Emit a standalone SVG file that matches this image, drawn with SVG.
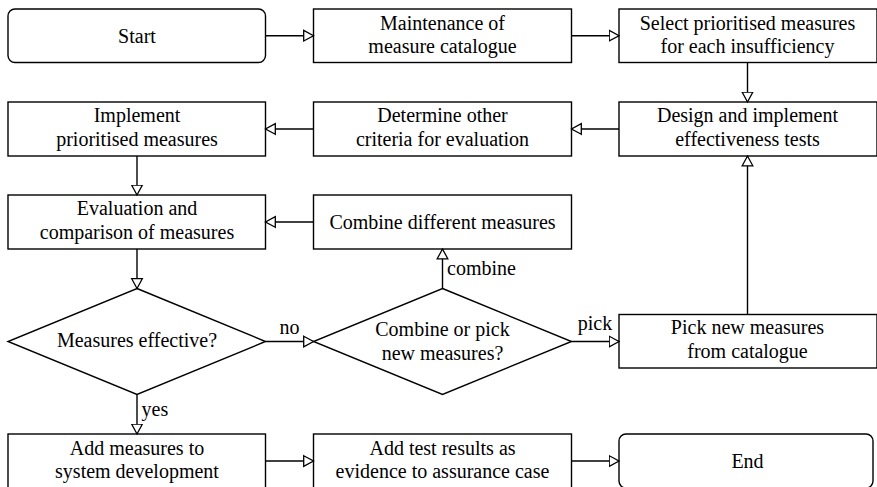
<svg xmlns="http://www.w3.org/2000/svg" width="877" height="487" viewBox="0 0 877 487">
<style>
.box{fill:#fff;stroke:#000;stroke-width:1.4}
text{font-family:"Liberation Serif","Times New Roman",serif;font-size:20px;fill:#000}
.t{text-anchor:middle}
.c{fill:none;stroke:#000;stroke-width:1.4;marker-end:url(#ah)}
</style>
<defs>
<marker id="ah" markerUnits="userSpaceOnUse" markerWidth="14" markerHeight="14" refX="10.5" refY="6" orient="auto" viewBox="0 0 14 12">
<path d="M0.7,0.7 L10.5,6 L0.7,11.3 Z" fill="#fff" stroke="#000" stroke-width="1.3"/>
</marker>
</defs>
<rect width="877" height="487" fill="#fff"/>
<g id="start"><rect class="box" x="8" y="9" width="257.5" height="53.5" rx="7"/><text class="t" x="137" y="42.5">Start</text></g>
<g id="maintenance"><rect class="box" x="313.5" y="9" width="258" height="53.5"/><text class="t" x="442.5" y="29.5">Maintenance of</text><text class="t" x="442.5" y="52.5">measure catalogue</text></g>
<g id="select"><rect class="box" x="619" y="9" width="258" height="53.5"/><text class="t" x="747.5" y="29.5">Select prioritised measures</text><text class="t" x="747.5" y="52.5">for each insufficiency</text></g>
<g id="design"><rect class="box" x="619" y="102" width="258" height="54"/><text class="t" x="747.5" y="122">Design and implement</text><text class="t" x="747.5" y="145.5">effectiveness tests</text></g>
<g id="determine"><rect class="box" x="313.5" y="102" width="258" height="54"/><text class="t" x="442.5" y="122">Determine other</text><text class="t" x="442.5" y="145.5">criteria for evaluation</text></g>
<g id="implement"><rect class="box" x="8" y="102" width="257.5" height="54"/><text class="t" x="137" y="122">Implement</text><text class="t" x="137" y="145.5">prioritised measures</text></g>
<g id="evaluation"><rect class="box" x="8" y="195" width="257.5" height="54"/><text class="t" x="137" y="215">Evaluation and</text><text class="t" x="137" y="238.5">comparison of measures</text></g>
<g id="combine"><rect class="box" x="313.5" y="195" width="258" height="54"/><text class="t" x="442.5" y="228.5">Combine different measures</text></g>
<g id="effective"><polygon class="box" points="137,288.5 265.5,341.5 137,394.5 8,341.5"/><text class="t" x="137" y="346.5">Measures effective?</text></g>
<g id="combinepick"><polygon class="box" points="442.5,288.5 571.5,341.5 442.5,394.5 313.5,341.5"/><text class="t" x="442.5" y="336">Combine or pick</text><text class="t" x="442.5" y="359.5">new measures?</text></g>
<g id="picknew"><rect class="box" x="619" y="314.5" width="258" height="53.5"/><text class="t" x="747.5" y="334">Pick new measures</text><text class="t" x="747.5" y="357.5">from catalogue</text></g>
<g id="addmeasures"><rect class="box" x="8" y="434" width="257.5" height="54"/><text class="t" x="137" y="454.5">Add measures to</text><text class="t" x="137" y="478">system development</text></g>
<g id="addtest"><rect class="box" x="313.5" y="434" width="258" height="54"/><text class="t" x="442.5" y="454.5">Add test results as</text><text class="t" x="442.5" y="478">evidence to assurance case</text></g>
<g id="end"><rect class="box" x="619" y="434" width="254" height="54" rx="7"/><text class="t" x="747.5" y="467.5">End</text></g>
<g id="connectors">
<path class="c" d="M265.5,35.7 H313.5"/>
<path class="c" d="M571.5,35.7 H619"/>
<path class="c" d="M747.5,62.5 V102"/>
<path class="c" d="M619,129 H571.5"/>
<path class="c" d="M313.5,129 H265.5"/>
<path class="c" d="M137,156 V195"/>
<path class="c" d="M313.5,222 H265.5"/>
<path class="c" d="M137,249 V288.5"/>
<path class="c" d="M265.5,341.5 H313.5"/>
<path class="c" d="M442.5,288.5 V249"/>
<path class="c" d="M571.5,341.5 H619"/>
<path class="c" d="M747.5,314.5 V156"/>
<path class="c" d="M137,394.5 V434"/>
<path class="c" d="M265.5,461 H313.5"/>
<path class="c" d="M571.5,461 H619"/>
<text class="t" x="289.5" y="333.5">no</text>
<text class="t" x="595" y="329.5">pick</text>
<text x="447" y="274.5">combine</text>
<text x="141.5" y="416">yes</text>
</g>
</svg>
